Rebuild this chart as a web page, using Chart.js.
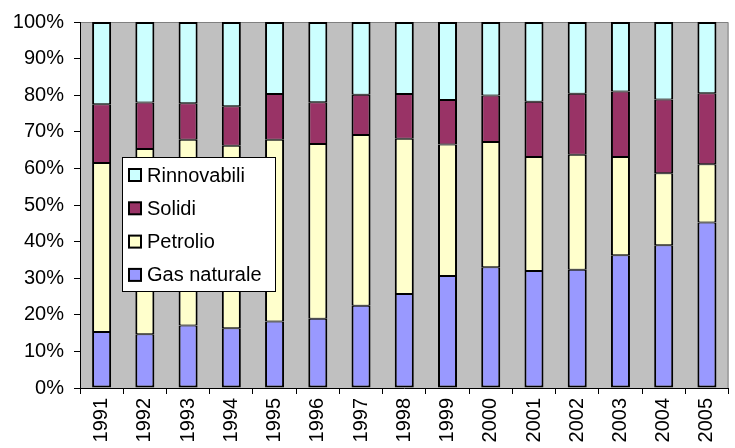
<!DOCTYPE html>
<html>
<head>
<meta charset="utf-8">
<script src="https://cdn.jsdelivr.net/npm/chart.js@4.4.1/dist/chart.umd.min.js"></script>
<style>
  html, body { margin: 0; padding: 0; background: #ffffff; }
  #wrap { width: 735px; height: 448px; }
</style>
</head>
<body>
<div id="wrap"><canvas id="chart" width="735" height="448"></canvas></div>
<script>
// Quote percentuali delle fonti energetiche, 1991-2005
const anni = ['1991','1992','1993','1994','1995','1996','1997','1998','1999','2000','2001','2002','2003','2004','2005'];
const gasNaturale = [15.3, 14.7, 17.1, 16.3, 18.2, 18.9, 22.5, 25.7, 30.6, 33.0, 32.0, 32.3, 36.3, 39.0, 45.2];
const petrolio    = [46.2, 50.6, 50.7, 49.9, 49.6, 47.8, 46.6, 42.4, 35.9, 34.2, 31.1, 31.4, 26.8, 19.7, 15.9];
const solidi      = [16.0, 12.7, 10.0, 10.8, 12.5, 11.4, 11.0, 12.2, 12.2, 12.7, 15.1, 16.7, 17.9, 20.1, 19.4];
const rinnovabili = [22.5, 22.0, 22.2, 23.0, 19.7, 21.9, 19.9, 19.7, 21.3, 20.1, 21.8, 19.6, 19.0, 21.2, 19.5];
const tickPercentuali = [0, 10, 20, 30, 40, 50, 60, 70, 80, 90, 100];

const FONT = 'Liberation Sans, Arial, sans-serif';

// Sfondo grigio dell'area del grafico con bordo sottile
const plotBackground = {
  id: 'plotBackground',
  beforeDraw(chart) {
    const { ctx, chartArea: a } = chart;
    ctx.save();
    ctx.fillStyle = '#C0C0C0';
    ctx.fillRect(a.left, a.top, a.right - a.left, a.bottom - a.top);
    ctx.strokeStyle = '#808080';
    ctx.lineWidth = 1;
    ctx.beginPath();
    ctx.moveTo(a.left, a.top + 0.5);
    ctx.lineTo(a.right - 0.5, a.top + 0.5);
    ctx.lineTo(a.right - 0.5, a.bottom);
    ctx.stroke();
    ctx.restore();
  }
};

// Legenda riquadrata all'interno dell'area del grafico
const boxLegend = {
  id: 'boxLegend',
  afterDraw(chart) {
    const { ctx } = chart;
    const x = 122, y = 157, w = 154, h = 135;
    ctx.save();
    ctx.fillStyle = '#ffffff';
    ctx.fillRect(x, y, w, h);
    ctx.strokeStyle = '#000000';
    ctx.lineWidth = 1;
    ctx.strokeRect(x + 0.5, y + 0.5, w - 1, h - 1);
    const items = chart.data.datasets.slice().reverse();
    ctx.font = '20px ' + FONT;
    ctx.textBaseline = 'middle';
    ctx.textAlign = 'left';
    items.forEach((ds, i) => {
      const cy = y + 18 + i * 33.3;
      ctx.fillStyle = ds.backgroundColor;
      ctx.fillRect(x + 7, cy - 6, 12, 12);
      ctx.lineWidth = 2;
      ctx.strokeStyle = '#000000';
      ctx.strokeRect(x + 7, cy - 6, 12, 12);
      ctx.fillStyle = '#000000';
      ctx.fillText(ds.label, x + 25, cy + 1);
    });
    ctx.restore();
  }
};

// Bordo di 2px attorno a ogni colonna e tra i segmenti
const serie = (label, data, color, top, bottom) => ({
  label, data,
  backgroundColor: color,
  borderColor: '#000000',
  borderWidth: { left: 2, right: 2, top: top, bottom: bottom },
  borderSkipped: false,
  categoryPercentage: 1.0,
  barPercentage: 0.44
});

new Chart(document.getElementById('chart'), {
  type: 'bar',
  data: {
    labels: anni,
    datasets: [
      serie('Gas naturale', gasNaturale, '#9999FF', 1, 2),
      serie('Petrolio', petrolio, '#FFFFCC', 1, 1),
      serie('Solidi', solidi, '#993366', 1, 1),
      serie('Rinnovabili', rinnovabili, '#CCFFFF', 2, 1)
    ]
  },
  options: {
    responsive: false,
    animation: false,
    layout: { padding: { top: 21, right: 2, left: 0, bottom: 0 } },
    plugins: {
      legend: { display: false },
      tooltip: { enabled: false }
    },
    scales: {
      x: {
        stacked: true,
        grid: { offset: true, drawOnChartArea: false, drawTicks: true, tickLength: 6, color: '#000000' },
        border: { color: '#000000', width: 1 },
        ticks: {
          color: '#000000',
          font: { family: FONT, size: 20 },
          minRotation: 90, maxRotation: 90,
          padding: 4,
          autoSkip: false
        },
        afterFit(scale) { scale.height = 60; }
      },
      y: {
        stacked: true,
        min: 0, max: 100,
        afterBuildTicks(scale) { scale.ticks = tickPercentuali.map(v => ({ value: v })); },
        grid: { drawOnChartArea: false, drawTicks: true, tickLength: 6, color: '#000000' },
        border: { color: '#000000', width: 1 },
        ticks: {
          color: '#000000',
          font: { family: FONT, size: 20 },
          padding: 10,
          callback: v => v + '%'
        },
        afterFit(scale) { scale.width = 80; }
      }
    }
  },
  plugins: [plotBackground, boxLegend]
});
</script>
</body>
</html>
